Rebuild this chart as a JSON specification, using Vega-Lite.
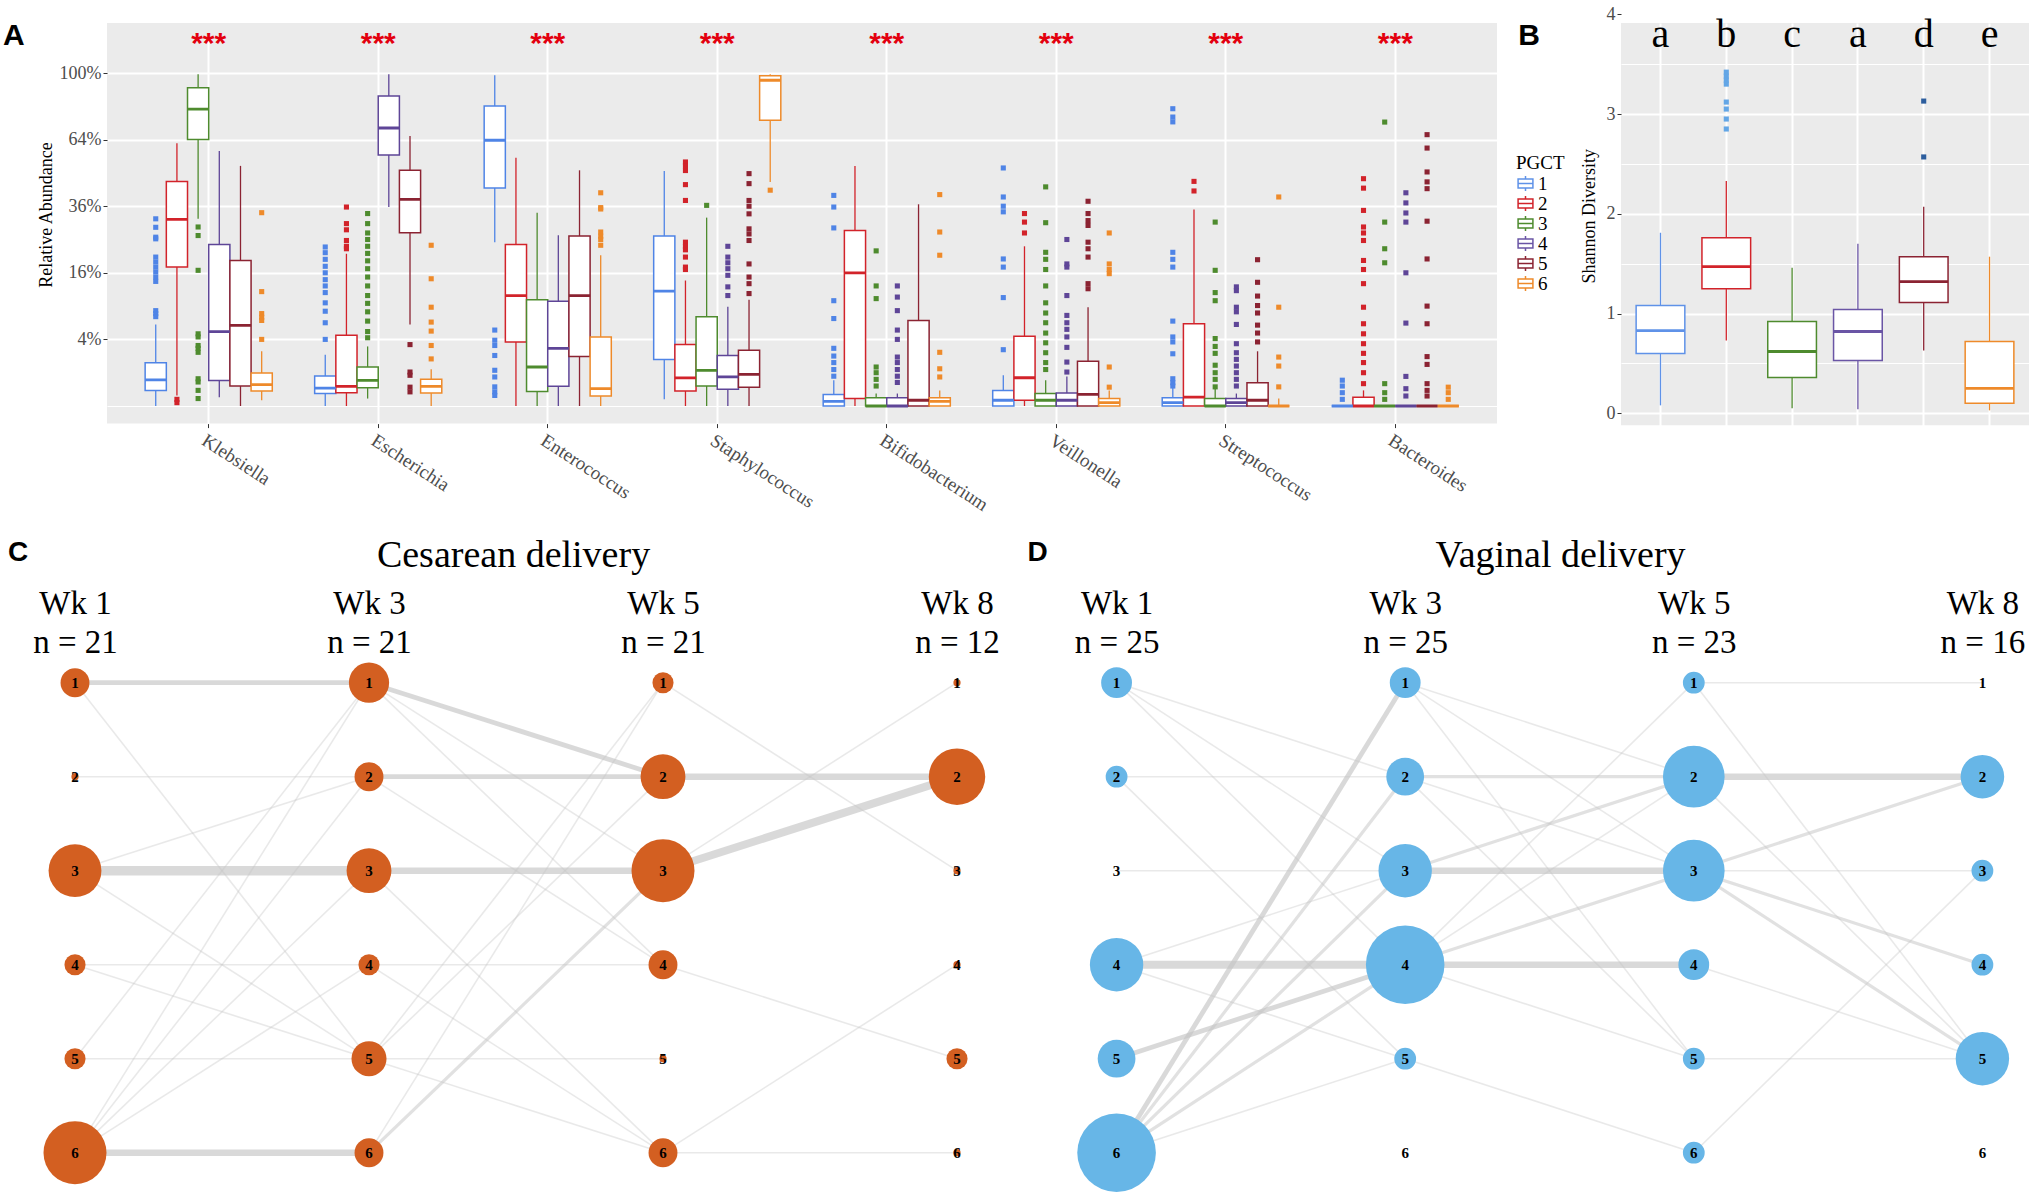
{
"$schema": "https://vega.github.io/schema/vega-lite/v6.json",
"background": "white",
"padding": {"left": 3, "top": 5, "right": 0, "bottom": 0},
"config": {"view": {"stroke": null}, "font": "Liberation Serif"},
"datasets": {
"boxA": [
{"g":"Klebsiella","p":1,"lo":0,"q1":0.0022,"med":0.0062,"q3":0.0169,"hi":0.060},
{"g":"Klebsiella","p":2,"lo":0.001,"q1":0.174,"med":0.314,"q3":0.455,"hi":0.623},
{"g":"Klebsiella","p":3,"lo":0.316,"q1":0.640,"med":0.795,"q3":0.914,"hi":0.992},
{"g":"Klebsiella","p":4,"lo":0.0007,"q1":0.0059,"med":0.050,"q3":0.235,"hi":0.586},
{"g":"Klebsiella","p":5,"lo":0,"q1":0.0036,"med":0.0586,"q3":0.191,"hi":0.520},
{"g":"Klebsiella","p":6,"lo":0.0003,"q1":0.0020,"med":0.0041,"q3":0.0098,"hi":0.027},
{"g":"Escherichia","p":1,"lo":0,"q1":0.0014,"med":0.0029,"q3":0.0081,"hi":0.0237},
{"g":"Escherichia","p":2,"lo":0,"q1":0.0016,"med":0.0035,"q3":0.045,"hi":0.209},
{"g":"Escherichia","p":3,"lo":0.0005,"q1":0.003,"med":0.0059,"q3":0.0137,"hi":0.032},
{"g":"Escherichia","p":4,"lo":0.357,"q1":0.568,"med":0.697,"q3":0.867,"hi":0.992},
{"g":"Escherichia","p":5,"lo":0.060,"q1":0.271,"med":0.385,"q3":0.501,"hi":0.657},
{"g":"Escherichia","p":6,"lo":0,"q1":0.0015,"med":0.0035,"q3":0.0064,"hi":0.0121},
{"g":"Enterococcus","p":1,"lo":0.242,"q1":0.429,"med":0.637,"q3":0.812,"hi":0.986},
{"g":"Enterococcus","p":2,"lo":0,"q1":0.037,"med":0.110,"q3":0.235,"hi":0.556},
{"g":"Enterococcus","p":3,"lo":0,"q1":0.0019,"med":0.0137,"q3":0.102,"hi":0.337},
{"g":"Enterococcus","p":4,"lo":0,"q1":0.0035,"med":0.030,"q3":0.099,"hi":0.263},
{"g":"Enterococcus","p":5,"lo":0,"q1":0.022,"med":0.110,"q3":0.261,"hi":0.501},
{"g":"Enterococcus","p":6,"lo":0,"q1":0.0009,"med":0.0027,"q3":0.043,"hi":0.205},
{"g":"Staphylococcus","p":1,"lo":0.0004,"q1":0.0194,"med":0.119,"q3":0.261,"hi":0.498},
{"g":"Staphylococcus","p":2,"lo":0,"q1":0.002,"med":0.0071,"q3":0.034,"hi":0.142},
{"g":"Staphylococcus","p":3,"lo":0,"q1":0.0036,"med":0.0115,"q3":0.072,"hi":0.320},
{"g":"Staphylococcus","p":4,"lo":0,"q1":0.0025,"med":0.0076,"q3":0.023,"hi":0.089},
{"g":"Staphylococcus","p":5,"lo":0,"q1":0.0032,"med":0.009,"q3":0.028,"hi":0.102},
{"g":"Staphylococcus","p":6,"lo":0.453,"q1":0.736,"med":0.957,"q3":0.984,"hi":0.992},
{"g":"Bifidobacterium","p":1,"lo":0,"q1":0,"med":0.0002,"q3":0.0012,"hi":0.006},
{"g":"Bifidobacterium","p":2,"lo":0,"q1":0.0005,"med":0.160,"q3":0.278,"hi":0.520},
{"g":"Bifidobacterium","p":3,"lo":0,"q1":0,"med":0,"q3":0.0006,"hi":0.0014},
{"g":"Bifidobacterium","p":4,"lo":0,"q1":0,"med":0,"q3":0.0006,"hi":0.0014},
{"g":"Bifidobacterium","p":5,"lo":0,"q1":0,"med":0.0003,"q3":0.066,"hi":0.367},
{"g":"Bifidobacterium","p":6,"lo":0,"q1":0,"med":0.0002,"q3":0.0006,"hi":0.0022},
{"g":"Veillonella","p":1,"lo":0,"q1":0,"med":0.0003,"q3":0.0022,"hi":0.0085},
{"g":"Veillonella","p":2,"lo":0,"q1":0.0003,"med":0.0072,"q3":0.044,"hi":0.230},
{"g":"Veillonella","p":3,"lo":0,"q1":0,"med":0.0003,"q3":0.0014,"hi":0.006},
{"g":"Veillonella","p":4,"lo":0,"q1":0,"med":0.0003,"q3":0.0015,"hi":0.0079},
{"g":"Veillonella","p":5,"lo":0,"q1":0,"med":0.0012,"q3":0.018,"hi":0.088},
{"g":"Veillonella","p":6,"lo":0,"q1":0,"med":0.0001,"q3":0.0005,"hi":0.0022},
{"g":"Streptococcus","p":1,"lo":0,"q1":0,"med":0.0001,"q3":0.0006,"hi":0.0032},
{"g":"Streptococcus","p":2,"lo":0,"q1":0,"med":0.0007,"q3":0.061,"hi":0.348},
{"g":"Streptococcus","p":3,"lo":0,"q1":0,"med":0,"q3":0.0005,"hi":0.0027},
{"g":"Streptococcus","p":4,"lo":0,"q1":0,"med":0.0001,"q3":0.0005,"hi":0.0014},
{"g":"Streptococcus","p":5,"lo":0,"q1":0,"med":0.0003,"q3":0.0049,"hi":0.027},
{"g":"Streptococcus","p":6,"lo":0,"q1":0,"med":0,"q3":0,"hi":0.0005},
{"g":"Bacteroides","p":1,"lo":0,"q1":0,"med":0,"q3":0,"hi":0},
{"g":"Bacteroides","p":2,"lo":0,"q1":0,"med":0,"q3":0.0007,"hi":0.0022},
{"g":"Bacteroides","p":3,"lo":0,"q1":0,"med":0,"q3":0,"hi":0},
{"g":"Bacteroides","p":4,"lo":0,"q1":0,"med":0,"q3":0,"hi":0},
{"g":"Bacteroides","p":5,"lo":0,"q1":0,"med":0,"q3":0,"hi":0},
{"g":"Bacteroides","p":6,"lo":0,"q1":0,"med":0,"q3":0,"hi":0}
],
"outA": [
{"g":"Klebsiella","p":1,"v":[0.316,0.288,0.257,0.252,0.200,0.187,0.174,0.162,0.150,0.140,0.082,0.077,0.072]},
{"g":"Klebsiella","p":2,"v":[0.0004,0.0001]},
{"g":"Klebsiella","p":3,"v":[0.289,0.262,0.166,0.047,0.043,0.033,0.030,0.026,0.0067,0.0052,0.0022,0.0005]},
{"g":"Klebsiella","p":6,"v":[0.337,0.118,0.077,0.071,0.066,0.040]},
{"g":"Escherichia","p":1,"v":[0.228,0.212,0.194,0.176,0.160,0.144,0.130,0.116,0.096,0.081,0.0625,0.040]},
{"g":"Escherichia","p":2,"v":[0.357,0.300,0.280,0.247,0.230,0.223]},
{"g":"Escherichia","p":3,"v":[0.334,0.300,0.270,0.250,0.230,0.210,0.190,0.170,0.150,0.130,0.110,0.095,0.080,0.065,0.050,0.042]},
{"g":"Escherichia","p":5,"v":[0.034,0.0104,0.0085,0.0032,0.0018]},
{"g":"Escherichia","p":6,"v":[0.233,0.146,0.088,0.0635,0.0506,0.033,0.020]},
{"g":"Enterococcus","p":1,"v":[0.052,0.039,0.033,0.023,0.0115,0.0076,0.0033,0.0018,0.001]},
{"g":"Enterococcus","p":6,"v":[0.410,0.355,0.350,0.273,0.260,0.250,0.233]},
{"g":"Staphylococcus","p":2,"v":[0.537,0.520,0.500,0.442,0.381,0.242,0.230,0.220,0.200,0.174,0.168]},
{"g":"Staphylococcus","p":3,"v":[0.363]},
{"g":"Staphylococcus","p":4,"v":[0.230,0.200,0.185,0.170,0.154,0.128,0.110]},
{"g":"Staphylococcus","p":5,"v":[0.487,0.446,0.381,0.360,0.333,0.283,0.267,0.247,0.182,0.150,0.135,0.114]},
{"g":"Staphylococcus","p":6,"v":[0.420]},
{"g":"Bifidobacterium","p":1,"v":[0.400,0.357,0.286,0.100,0.069,0.030,0.0225,0.017,0.012,0.008]},
{"g":"Bifidobacterium","p":3,"v":[0.217,0.130,0.104,0.0137,0.010,0.0064,0.0036]},
{"g":"Bifidobacterium","p":4,"v":[0.130,0.107,0.082,0.052,0.040,0.0216,0.017,0.012,0.008,0.005]},
{"g":"Bifidobacterium","p":6,"v":[0.403,0.273,0.205,0.026,0.0125,0.0076]},
{"g":"Veillonella","p":1,"v":[0.511,0.394,0.360,0.340,0.195,0.174,0.106,0.0286]},
{"g":"Veillonella","p":2,"v":[0.334,0.305,0.270]},
{"g":"Veillonella","p":3,"v":[0.433,0.303,0.213,0.194,0.168,0.130,0.096,0.078,0.0625,0.048,0.036,0.0256,0.017,0.012]},
{"g":"Veillonella","p":4,"v":[0.250,0.182,0.174,0.110,0.074,0.0625,0.053,0.043,0.031,0.0174,0.0104]},
{"g":"Veillonella","p":5,"v":[0.378,0.334,0.310,0.294,0.242,0.223,0.200,0.135,0.124]},
{"g":"Veillonella","p":6,"v":[0.270,0.182,0.168,0.158,0.0137,0.0032]},
{"g":"Streptococcus","p":1,"v":[0.797,0.753,0.728,0.213,0.194,0.174,0.065,0.043,0.037,0.0246,0.0067,0.0049,0.0036]},
{"g":"Streptococcus","p":2,"v":[0.455,0.417]},
{"g":"Streptococcus","p":3,"v":[0.305,0.166,0.116,0.100,0.041,0.032,0.025,0.015,0.010,0.0064,0.0033]},
{"g":"Streptococcus","p":4,"v":[0.128,0.120,0.088,0.080,0.060,0.035,0.0256,0.0196,0.0144,0.010,0.0064,0.0036]},
{"g":"Streptococcus","p":5,"v":[0.193,0.138,0.109,0.091,0.078,0.059,0.048,0.037]},
{"g":"Streptococcus","p":6,"v":[0.394,0.088,0.0216,0.0144,0.0033]},
{"g":"Bacteroides","p":1,"v":[0.006,0.0036,0.0016,0.0004]},
{"g":"Bacteroides","p":2,"v":[0.466,0.428,0.345,0.289,0.270,0.247,0.191,0.168,0.135,0.088,0.061,0.047,0.035,0.025,0.017,0.010,0.0045]},
{"g":"Bacteroides","p":3,"v":[0.727,0.305,0.223,0.185,0.0045,0.0016,0.0004]},
{"g":"Bacteroides","p":4,"v":[0.410,0.372,0.336,0.305,0.160,0.062,0.0079,0.0027,0.0009]},
{"g":"Bacteroides","p":5,"v":[0.664,0.600,0.494,0.453,0.426,0.308,0.195,0.090,0.061,0.022,0.0156,0.0045,0.0022,0.0009]},
{"g":"Bacteroides","p":6,"v":[0.0032,0.0016,0.0004]}
],
"starsA": [
{"g":"Klebsiella","s":"***"},{"g":"Escherichia","s":"***"},{"g":"Enterococcus","s":"***"},{"g":"Staphylococcus","s":"***"},
{"g":"Bifidobacterium","s":"***"},{"g":"Veillonella","s":"***"},{"g":"Streptococcus","s":"***"},{"g":"Bacteroides","s":"***"}
],
"boxB": [
{"p":1,"lo":0.08,"q1":0.60,"med":0.83,"q3":1.08,"hi":1.81},
{"p":2,"lo":0.73,"q1":1.25,"med":1.47,"q3":1.76,"hi":2.33},
{"p":3,"lo":0.05,"q1":0.36,"med":0.62,"q3":0.92,"hi":1.46},
{"p":4,"lo":0.04,"q1":0.53,"med":0.82,"q3":1.04,"hi":1.70},
{"p":5,"lo":0.63,"q1":1.11,"med":1.32,"q3":1.57,"hi":2.07},
{"p":6,"lo":0.03,"q1":0.10,"med":0.25,"q3":0.72,"hi":1.57}
],
"outB": [
{"p":2,"v":[3.42,3.38,3.34,3.30,3.12,3.05,2.95,2.85]},
{"p":5,"v":[3.13,2.57]}
],
"lettersB": [
{"p":1,"letter":"a"},{"p":2,"letter":"b"},{"p":3,"letter":"c"},{"p":4,"letter":"a"},{"p":5,"letter":"d"},{"p":6,"letter":"e"}
],
"nodesC": [
{"t":"Wk 1|n = 21","cl":1,"n":2},{"t":"Wk 1|n = 21","cl":2,"n":0},{"t":"Wk 1|n = 21","cl":3,"n":7},{"t":"Wk 1|n = 21","cl":4,"n":1},{"t":"Wk 1|n = 21","cl":5,"n":1},{"t":"Wk 1|n = 21","cl":6,"n":10},
{"t":"Wk 3|n = 21","cl":1,"n":4},{"t":"Wk 3|n = 21","cl":2,"n":2},{"t":"Wk 3|n = 21","cl":3,"n":5},{"t":"Wk 3|n = 21","cl":4,"n":1},{"t":"Wk 3|n = 21","cl":5,"n":3},{"t":"Wk 3|n = 21","cl":6,"n":2},
{"t":"Wk 5|n = 21","cl":1,"n":1},{"t":"Wk 5|n = 21","cl":2,"n":5},{"t":"Wk 5|n = 21","cl":3,"n":10},{"t":"Wk 5|n = 21","cl":4,"n":2},{"t":"Wk 5|n = 21","cl":5,"n":0},{"t":"Wk 5|n = 21","cl":6,"n":2},
{"t":"Wk 8|n = 12","cl":1,"n":0},{"t":"Wk 8|n = 12","cl":2,"n":8},{"t":"Wk 8|n = 12","cl":3,"n":0},{"t":"Wk 8|n = 12","cl":4,"n":0},{"t":"Wk 8|n = 12","cl":5,"n":1},{"t":"Wk 8|n = 12","cl":6,"n":0}
],
"edgesC": [
{"t":"Wk 1|n = 21","cl":1,"t2":"Wk 3|n = 21","cl2":1,"w":3},
{"t":"Wk 1|n = 21","cl":1,"t2":"Wk 3|n = 21","cl2":5,"w":1},
{"t":"Wk 1|n = 21","cl":2,"t2":"Wk 3|n = 21","cl2":2,"w":1},
{"t":"Wk 1|n = 21","cl":3,"t2":"Wk 3|n = 21","cl2":3,"w":6},
{"t":"Wk 1|n = 21","cl":3,"t2":"Wk 3|n = 21","cl2":2,"w":1},
{"t":"Wk 1|n = 21","cl":3,"t2":"Wk 3|n = 21","cl2":5,"w":1},
{"t":"Wk 1|n = 21","cl":4,"t2":"Wk 3|n = 21","cl2":4,"w":1},
{"t":"Wk 1|n = 21","cl":4,"t2":"Wk 3|n = 21","cl2":5,"w":1},
{"t":"Wk 1|n = 21","cl":5,"t2":"Wk 3|n = 21","cl2":5,"w":1},
{"t":"Wk 1|n = 21","cl":5,"t2":"Wk 3|n = 21","cl2":1,"w":1},
{"t":"Wk 1|n = 21","cl":6,"t2":"Wk 3|n = 21","cl2":6,"w":4},
{"t":"Wk 1|n = 21","cl":6,"t2":"Wk 3|n = 21","cl2":1,"w":1},
{"t":"Wk 1|n = 21","cl":6,"t2":"Wk 3|n = 21","cl2":2,"w":1},
{"t":"Wk 1|n = 21","cl":6,"t2":"Wk 3|n = 21","cl2":3,"w":1},
{"t":"Wk 1|n = 21","cl":6,"t2":"Wk 3|n = 21","cl2":4,"w":1},
{"t":"Wk 3|n = 21","cl":1,"t2":"Wk 5|n = 21","cl2":2,"w":3},
{"t":"Wk 3|n = 21","cl":1,"t2":"Wk 5|n = 21","cl2":3,"w":1},
{"t":"Wk 3|n = 21","cl":1,"t2":"Wk 5|n = 21","cl2":4,"w":1},
{"t":"Wk 3|n = 21","cl":2,"t2":"Wk 5|n = 21","cl2":2,"w":3},
{"t":"Wk 3|n = 21","cl":2,"t2":"Wk 5|n = 21","cl2":4,"w":1},
{"t":"Wk 3|n = 21","cl":3,"t2":"Wk 5|n = 21","cl2":3,"w":4},
{"t":"Wk 3|n = 21","cl":3,"t2":"Wk 5|n = 21","cl2":6,"w":1},
{"t":"Wk 3|n = 21","cl":4,"t2":"Wk 5|n = 21","cl2":4,"w":1},
{"t":"Wk 3|n = 21","cl":4,"t2":"Wk 5|n = 21","cl2":6,"w":1},
{"t":"Wk 3|n = 21","cl":5,"t2":"Wk 5|n = 21","cl2":1,"w":1},
{"t":"Wk 3|n = 21","cl":5,"t2":"Wk 5|n = 21","cl2":2,"w":1},
{"t":"Wk 3|n = 21","cl":5,"t2":"Wk 5|n = 21","cl2":5,"w":1},
{"t":"Wk 3|n = 21","cl":5,"t2":"Wk 5|n = 21","cl2":6,"w":1},
{"t":"Wk 3|n = 21","cl":6,"t2":"Wk 5|n = 21","cl2":3,"w":2},
{"t":"Wk 3|n = 21","cl":6,"t2":"Wk 5|n = 21","cl2":1,"w":1},
{"t":"Wk 5|n = 21","cl":2,"t2":"Wk 8|n = 12","cl2":2,"w":4},
{"t":"Wk 5|n = 21","cl":3,"t2":"Wk 8|n = 12","cl2":2,"w":5},
{"t":"Wk 5|n = 21","cl":1,"t2":"Wk 8|n = 12","cl2":3,"w":1},
{"t":"Wk 5|n = 21","cl":3,"t2":"Wk 8|n = 12","cl2":1,"w":1},
{"t":"Wk 5|n = 21","cl":4,"t2":"Wk 8|n = 12","cl2":5,"w":1},
{"t":"Wk 5|n = 21","cl":6,"t2":"Wk 8|n = 12","cl2":4,"w":1},
{"t":"Wk 5|n = 21","cl":6,"t2":"Wk 8|n = 12","cl2":6,"w":1}
],
"nodesD": [
{"t":"Wk 1|n = 25","cl":1,"n":2},{"t":"Wk 1|n = 25","cl":2,"n":1},{"t":"Wk 1|n = 25","cl":3,"n":0},{"t":"Wk 1|n = 25","cl":4,"n":6},{"t":"Wk 1|n = 25","cl":5,"n":3},{"t":"Wk 1|n = 25","cl":6,"n":13},
{"t":"Wk 3|n = 25","cl":1,"n":2},{"t":"Wk 3|n = 25","cl":2,"n":3},{"t":"Wk 3|n = 25","cl":3,"n":6},{"t":"Wk 3|n = 25","cl":4,"n":13},{"t":"Wk 3|n = 25","cl":5,"n":1},{"t":"Wk 3|n = 25","cl":6,"n":0},
{"t":"Wk 5|n = 23","cl":1,"n":1},{"t":"Wk 5|n = 23","cl":2,"n":8},{"t":"Wk 5|n = 23","cl":3,"n":8},{"t":"Wk 5|n = 23","cl":4,"n":2},{"t":"Wk 5|n = 23","cl":5,"n":1},{"t":"Wk 5|n = 23","cl":6,"n":1},
{"t":"Wk 8|n = 16","cl":1,"n":0},{"t":"Wk 8|n = 16","cl":2,"n":4},{"t":"Wk 8|n = 16","cl":3,"n":1},{"t":"Wk 8|n = 16","cl":4,"n":1},{"t":"Wk 8|n = 16","cl":5,"n":6},{"t":"Wk 8|n = 16","cl":6,"n":0}
],
"edgesD": [
{"t":"Wk 1|n = 25","cl":1,"t2":"Wk 3|n = 25","cl2":2,"w":1},
{"t":"Wk 1|n = 25","cl":1,"t2":"Wk 3|n = 25","cl2":3,"w":1},
{"t":"Wk 1|n = 25","cl":1,"t2":"Wk 3|n = 25","cl2":4,"w":1},
{"t":"Wk 1|n = 25","cl":2,"t2":"Wk 3|n = 25","cl2":2,"w":1},
{"t":"Wk 1|n = 25","cl":2,"t2":"Wk 3|n = 25","cl2":5,"w":1},
{"t":"Wk 1|n = 25","cl":3,"t2":"Wk 3|n = 25","cl2":3,"w":1},
{"t":"Wk 1|n = 25","cl":4,"t2":"Wk 3|n = 25","cl2":4,"w":5},
{"t":"Wk 1|n = 25","cl":4,"t2":"Wk 3|n = 25","cl2":3,"w":1},
{"t":"Wk 1|n = 25","cl":4,"t2":"Wk 3|n = 25","cl2":5,"w":1},
{"t":"Wk 1|n = 25","cl":5,"t2":"Wk 3|n = 25","cl2":4,"w":3},
{"t":"Wk 1|n = 25","cl":6,"t2":"Wk 3|n = 25","cl2":1,"w":3},
{"t":"Wk 1|n = 25","cl":6,"t2":"Wk 3|n = 25","cl2":2,"w":2},
{"t":"Wk 1|n = 25","cl":6,"t2":"Wk 3|n = 25","cl2":3,"w":2},
{"t":"Wk 1|n = 25","cl":6,"t2":"Wk 3|n = 25","cl2":4,"w":2},
{"t":"Wk 1|n = 25","cl":6,"t2":"Wk 3|n = 25","cl2":5,"w":1},
{"t":"Wk 3|n = 25","cl":1,"t2":"Wk 5|n = 23","cl2":2,"w":1},
{"t":"Wk 3|n = 25","cl":1,"t2":"Wk 5|n = 23","cl2":3,"w":1},
{"t":"Wk 3|n = 25","cl":1,"t2":"Wk 5|n = 23","cl2":5,"w":1},
{"t":"Wk 3|n = 25","cl":2,"t2":"Wk 5|n = 23","cl2":2,"w":2},
{"t":"Wk 3|n = 25","cl":2,"t2":"Wk 5|n = 23","cl2":3,"w":1},
{"t":"Wk 3|n = 25","cl":2,"t2":"Wk 5|n = 23","cl2":5,"w":1},
{"t":"Wk 3|n = 25","cl":3,"t2":"Wk 5|n = 23","cl2":2,"w":2},
{"t":"Wk 3|n = 25","cl":3,"t2":"Wk 5|n = 23","cl2":3,"w":4},
{"t":"Wk 3|n = 25","cl":4,"t2":"Wk 5|n = 23","cl2":4,"w":4},
{"t":"Wk 3|n = 25","cl":4,"t2":"Wk 5|n = 23","cl2":3,"w":2},
{"t":"Wk 3|n = 25","cl":4,"t2":"Wk 5|n = 23","cl2":1,"w":1},
{"t":"Wk 3|n = 25","cl":4,"t2":"Wk 5|n = 23","cl2":2,"w":1},
{"t":"Wk 3|n = 25","cl":4,"t2":"Wk 5|n = 23","cl2":5,"w":1},
{"t":"Wk 3|n = 25","cl":5,"t2":"Wk 5|n = 23","cl2":6,"w":1},
{"t":"Wk 5|n = 23","cl":1,"t2":"Wk 8|n = 16","cl2":1,"w":1},
{"t":"Wk 5|n = 23","cl":1,"t2":"Wk 8|n = 16","cl2":5,"w":1},
{"t":"Wk 5|n = 23","cl":2,"t2":"Wk 8|n = 16","cl2":2,"w":4},
{"t":"Wk 5|n = 23","cl":2,"t2":"Wk 8|n = 16","cl2":5,"w":1},
{"t":"Wk 5|n = 23","cl":3,"t2":"Wk 8|n = 16","cl2":2,"w":2},
{"t":"Wk 5|n = 23","cl":3,"t2":"Wk 8|n = 16","cl2":3,"w":1},
{"t":"Wk 5|n = 23","cl":3,"t2":"Wk 8|n = 16","cl2":4,"w":2},
{"t":"Wk 5|n = 23","cl":3,"t2":"Wk 8|n = 16","cl2":5,"w":2},
{"t":"Wk 5|n = 23","cl":4,"t2":"Wk 8|n = 16","cl2":5,"w":1},
{"t":"Wk 5|n = 23","cl":5,"t2":"Wk 8|n = 16","cl2":5,"w":1},
{"t":"Wk 5|n = 23","cl":6,"t2":"Wk 8|n = 16","cl2":3,"w":1}
]
},
"concat": [
{
"hconcat": [
{
"width": 1390, "height": 400.6,
"view": {"fill": "#EBEBEB", "stroke": null},
"title": {"text": ["", "A"], "orient": "top", "anchor": "start", "frame": "bounds", "baseline": "top", "lineHeight": 16, "offset": -28.3, "dx": -34, "font": "Liberation Sans", "fontSize": 30, "fontWeight": "bold", "color": "black"},
"encoding": {
"x": {"field": "g", "type": "nominal", "sort": ["Klebsiella","Escherichia","Enterococcus","Staphylococcus","Bifidobacterium","Veillonella","Streptococcus","Bacteroides"],
"scale": {"paddingInner": 0, "paddingOuter": 0.1},
"axis": {"title": null, "labelAngle": 33, "labelAlign": "left", "labelBaseline": "top", "labelFont": "Liberation Serif", "labelFontSize": 19, "labelColor": "#4D4D4D", "labelPadding": 3, "tickSize": 4, "tickColor": "#333333", "domain": false, "grid": true, "gridColor": "white", "gridWidth": 2, "bandPosition": 0.5, "labelOverlap": false}}
},
"layer": [
{"data": {"name": "boxA"}, "mark": {"type": "rule", "strokeWidth": 1.3},
"encoding": {
"xOffset": {"field": "p", "type": "nominal", "scale": {"paddingInner": 0, "paddingOuter": 1}},
"y": {"field": "lo", "type": "quantitative", "scale": {"type": "sqrt", "domain": [0, 1.3229], "range": [383, 0], "nice": false, "zero": false},
"axis": {"title": "Relative Abundance", "titleFont": "Liberation Serif", "titleFontSize": 18, "titleFontWeight": "normal", "titleColor": "black", "titlePadding": 4,
"values": [0, 0.01, 0.04, 0.09, 0.16, 0.25, 0.36, 0.49, 0.64, 0.81, 1, 1.21],
"labelExpr": "indexof([0.04,0.16,0.36,0.64,1], datum.value) >= 0 ? format(datum.value, '.0%') : ''",
"labelFont": "Liberation Serif", "labelFontSize": 18, "labelColor": "#4D4D4D", "labelPadding": 2, "labelOverlap": false, "labelFlush": false,
"tickSize": 4, "tickColor": {"condition": {"test": "indexof([0.04,0.16,0.36,0.64,1], datum.value) >= 0", "value": "#333333"}, "value": "transparent"},
"domain": false, "grid": true, "gridColor": "white",
"gridWidth": {"condition": {"test": "indexof([0.04,0.16,0.36,0.64,1], datum.value) >= 0", "value": 2}, "value": 1.2}}},
"y2": {"field": "hi"},
"stroke": {"field": "p", "type": "nominal", "scale": {"domain": [1,2,3,4,5,6], "range": ["#4F84E6","#D2232A","#4E8B2E","#5E4597","#8B2332","#EE8A2A"]}, "legend": null}
}},
{"data": {"name": "boxA"}, "mark": {"type": "bar", "fill": "white", "strokeWidth": 1.5},
"encoding": {
"xOffset": {"field": "p", "type": "nominal", "scale": {"paddingInner": 0, "paddingOuter": 1}},
"y": {"field": "q1", "type": "quantitative"}, "y2": {"field": "q3"},
"stroke": {"field": "p", "type": "nominal", "legend": null}
}},
{"data": {"name": "boxA"}, "mark": {"type": "bar", "fill": "white", "strokeWidth": 2.8},
"encoding": {
"xOffset": {"field": "p", "type": "nominal", "scale": {"paddingInner": 0, "paddingOuter": 1}},
"y": {"field": "med", "type": "quantitative"}, "y2": {"field": "med"},
"stroke": {"field": "p", "type": "nominal", "legend": null}
}},
{"data": {"name": "outA"}, "transform": [{"flatten": ["v"]}],
"mark": {"type": "point", "shape": "square", "filled": true, "size": 26, "opacity": 1},
"encoding": {
"xOffset": {"field": "p", "type": "nominal", "scale": {"paddingInner": 0, "paddingOuter": 1}},
"y": {"field": "v", "type": "quantitative"},
"fill": {"field": "p", "type": "nominal", "scale": {"domain": [1,2,3,4,5,6], "range": ["#4F84E6","#D2232A","#4E8B2E","#5E4597","#8B2332","#EE8A2A"]}, "legend": null}
}},
{"data": {"name": "starsA"},
"mark": {"type": "text", "font": "Liberation Sans", "fontWeight": "bold", "fontSize": 30, "color": "#E3000F", "baseline": "alphabetic", "align": "center"},
"encoding": {"y": {"datum": 1.121, "type": "quantitative"}, "text": {"field": "s"}}}
]
},
{
"width": 408, "height": 402.3,
"view": {"fill": "#EBEBEB", "stroke": null},
"encoding": {
"x": {"field": "p", "type": "nominal", "scale": {"paddingInner": 0, "paddingOuter": 0.1},
"axis": {"title": "B", "titleX": -92.5, "titleY": -390, "titleAngle": 0, "titleAlign": "center", "titleBaseline": "middle", "titleFont": "Liberation Sans", "titleFontSize": 30, "titleFontWeight": "bold", "titleColor": "black", "labels": false, "ticks": false, "domain": false, "grid": true, "gridColor": "white", "gridWidth": 2, "bandPosition": 0.5}}
},
"layer": [
{"data": {"name": "boxB"}, "mark": {"type": "rule", "strokeWidth": 1.3},
"encoding": {
"y": {"field": "lo", "type": "quantitative", "scale": {"domain": [-0.12, 4.08], "range": [402.3, -16.7], "nice": false, "zero": false},
"axis": {"title": "Shannon Diversity", "titleFont": "Liberation Serif", "titleFontSize": 18, "titleFontWeight": "normal", "titleColor": "black", "titlePadding": 8,
"values": [0, 0.5, 1, 1.5, 2, 2.5, 3, 3.5, 4],
"labelExpr": "datum.value % 1 == 0 ? format(datum.value, 'd') : ''",
"labelFont": "Liberation Serif", "labelFontSize": 18, "labelColor": "#4D4D4D", "labelPadding": 2, "labelOverlap": false, "labelFlush": false,
"tickSize": 4, "tickColor": {"condition": {"test": "datum.value % 1 == 0", "value": "#333333"}, "value": "transparent"},
"domain": false, "grid": true, "gridColor": "white",
"gridWidth": {"condition": {"test": "datum.value % 1 == 0", "value": 2}, "value": 1.2}}},
"y2": {"field": "hi"},
"stroke": {"field": "p", "type": "nominal", "scale": {"domain": [1,2,3,4,5,6], "range": ["#5F92E8","#D2232A","#4E8B2E","#6A55A5","#8B2332","#EE8A2A"]},
"legend": {"orient": "none", "legendX": -105, "legendY": 131, "title": "PGCT", "titleFont": "Liberation Serif", "titleFontSize": 19, "titleFontWeight": "normal", "titleColor": "black", "titlePadding": 1,
"labelFont": "Liberation Serif", "labelFontSize": 19, "labelColor": "black", "labelOffset": 3,
"symbolType": "M-1,-0.6H1V0.6H-1Z M-1,0H1 M0,-0.6V-1 M0,0.6V1", "symbolSize": 220, "symbolStrokeWidth": 1.5, "symbolFillColor": "white", "rowPadding": -5, "padding": 0}}
}},
{"data": {"name": "boxB"}, "mark": {"type": "bar", "fill": "white", "strokeWidth": 1.5, "width": {"band": 0.74}},
"encoding": {"y": {"field": "q1", "type": "quantitative"}, "y2": {"field": "q3"}, "stroke": {"field": "p", "type": "nominal"}}},
{"data": {"name": "boxB"}, "mark": {"type": "bar", "fill": "white", "strokeWidth": 2.8, "width": {"band": 0.74}},
"encoding": {"y": {"field": "med", "type": "quantitative"}, "y2": {"field": "med"}, "stroke": {"field": "p", "type": "nominal"}}},
{"data": {"name": "outB"}, "transform": [{"flatten": ["v"]}],
"mark": {"type": "point", "shape": "square", "filled": true, "size": 26, "opacity": 1},
"encoding": {"y": {"field": "v", "type": "quantitative"},
"color": {"condition": {"test": "datum.p == 2", "value": "#63A6E6"}, "value": "#2D5E9E"}}},
{"data": {"name": "lettersB"},
"mark": {"type": "text", "font": "Liberation Serif", "fontSize": 40, "color": "black", "baseline": "alphabetic", "align": "center"},
"encoding": {"y": {"datum": 3.67, "type": "quantitative"}, "text": {"field": "letter"}}}
]
}
],
"spacing": 19,
"align": "none",
"resolve": {"scale": {"stroke": "independent", "fill": "independent", "color": "independent"}, "legend": {"stroke": "independent"}}
},
{
"hconcat": [
{
"width": 900, "height": 528.3,
"view": {"stroke": null},
"encoding": {
"x": {"field": "t", "type": "nominal", "scale": {"type": "point", "domain": ["Wk 1|n = 21","Wk 3|n = 21","Wk 5|n = 21","Wk 8|n = 12"], "range": [-32, 850], "padding": 0},
"axis": {"orient": "top", "title": "Cesarean delivery", "titleX": 406, "titleY": -106.8, "titleAlign": "center", "titleBaseline": "middle", "titleAngle": 0, "titleFont": "Liberation Serif", "titleFontSize": 38, "titleFontWeight": "normal", "titleColor": "black",
"labelExpr": "split(datum.label, '|')", "labelFont": "Liberation Serif", "labelFontSize": 33, "labelColor": "black", "labelLineHeight": 39, "labelAngle": 0, "labelBaseline": "bottom", "labelPadding": 42, "ticks": false, "tickSize": 0, "domain": false, "grid": false, "labelOverlap": false}},
"y": {"field": "cl", "type": "quantitative", "scale": {"domain": [0.78, 6.4], "reverse": true, "nice": false, "zero": false},
"axis": {"title": "C", "titleX": -89.5, "titleY": -109.8, "titleAngle": 0, "titleAlign": "center", "titleBaseline": "middle", "titleFont": "Liberation Sans", "titleFontSize": 28, "titleFontWeight": "bold", "titleColor": "black", "labels": false, "ticks": false, "domain": false, "grid": false}}
},
"layer": [
{"data": {"name": "edgesC"}, "mark": {"type": "rule", "color": "#c4c4c4", "strokeCap": "butt"},
"encoding": {"x2": {"field": "t2"}, "y2": {"field": "cl2"},
"strokeWidth": {"field": "w", "type": "quantitative", "scale": {"domain": [0, 6], "range": [0, 9.6]}, "legend": null},
"strokeOpacity": {"field": "w", "type": "quantitative", "scale": {"domain": [1, 3], "range": [0.38, 0.65], "clamp": true}, "legend": null}}},
{"data": {"name": "nodesC"}, "mark": {"type": "circle", "opacity": 1, "color": "#D35F21"},
"encoding": {"size": {"field": "n", "type": "quantitative", "scale": {"domain": [0, 10], "range": [52, 3969]}, "legend": null}}},
{"data": {"name": "nodesC"}, "mark": {"type": "text", "font": "Liberation Serif", "fontWeight": "bold", "fontSize": 15, "color": "black", "baseline": "middle", "align": "center"},
"encoding": {"text": {"field": "cl"}}}
]
},
{
"width": 983, "height": 528.3,
"view": {"stroke": null},
"encoding": {
"x": {"field": "t", "type": "nominal", "scale": {"type": "point", "domain": ["Wk 1|n = 25","Wk 3|n = 25","Wk 5|n = 23","Wk 8|n = 16"], "padding": 0.203, "align": 0.616},
"axis": {"orient": "top", "title": "Vaginal delivery", "titleX": 515.6, "titleY": -106.8, "titleAlign": "center", "titleBaseline": "middle", "titleAngle": 0, "titleFont": "Liberation Serif", "titleFontSize": 38, "titleFontWeight": "normal", "titleColor": "black",
"labelExpr": "split(datum.label, '|')", "labelFont": "Liberation Serif", "labelFontSize": 33, "labelColor": "black", "labelLineHeight": 39, "labelAngle": 0, "labelBaseline": "bottom", "labelPadding": 42, "ticks": false, "tickSize": 0, "domain": false, "grid": false, "labelOverlap": false}},
"y": {"field": "cl", "type": "quantitative", "scale": {"domain": [0.78, 6.4], "reverse": true, "nice": false, "zero": false},
"axis": {"title": "D", "titleX": -7.4, "titleY": -109.8, "titleAngle": 0, "titleAlign": "center", "titleBaseline": "middle", "titleFont": "Liberation Sans", "titleFontSize": 28, "titleFontWeight": "bold", "titleColor": "black", "labels": false, "ticks": false, "domain": false, "grid": false}}
},
"layer": [
{"data": {"name": "edgesD"}, "mark": {"type": "rule", "color": "#c4c4c4", "strokeCap": "butt"},
"encoding": {"x2": {"field": "t2"}, "y2": {"field": "cl2"},
"strokeWidth": {"field": "w", "type": "quantitative", "scale": {"domain": [0, 6], "range": [0, 9.6]}, "legend": null},
"strokeOpacity": {"field": "w", "type": "quantitative", "scale": {"domain": [1, 3], "range": [0.38, 0.65], "clamp": true}, "legend": null}}},
{"data": {"name": "nodesD"}, "mark": {"type": "circle", "opacity": 1, "color": "#67B6E7"},
"encoding": {"size": {"field": "n", "type": "quantitative", "scale": {"domain": [0, 13], "range": [0, 6178]}, "legend": null}}},
{"data": {"name": "nodesD"}, "mark": {"type": "text", "font": "Liberation Serif", "fontWeight": "bold", "fontSize": 15, "color": "black", "baseline": "middle", "align": "center"},
"encoding": {"text": {"field": "cl"}}}
]
}
],
"spacing": 19.4,
"resolve": {"scale": {"size": "independent", "strokeWidth": "independent", "strokeOpacity": "independent"}}
}
],
"columns": 1,
"spacing": 21,
"align": "none"
}
